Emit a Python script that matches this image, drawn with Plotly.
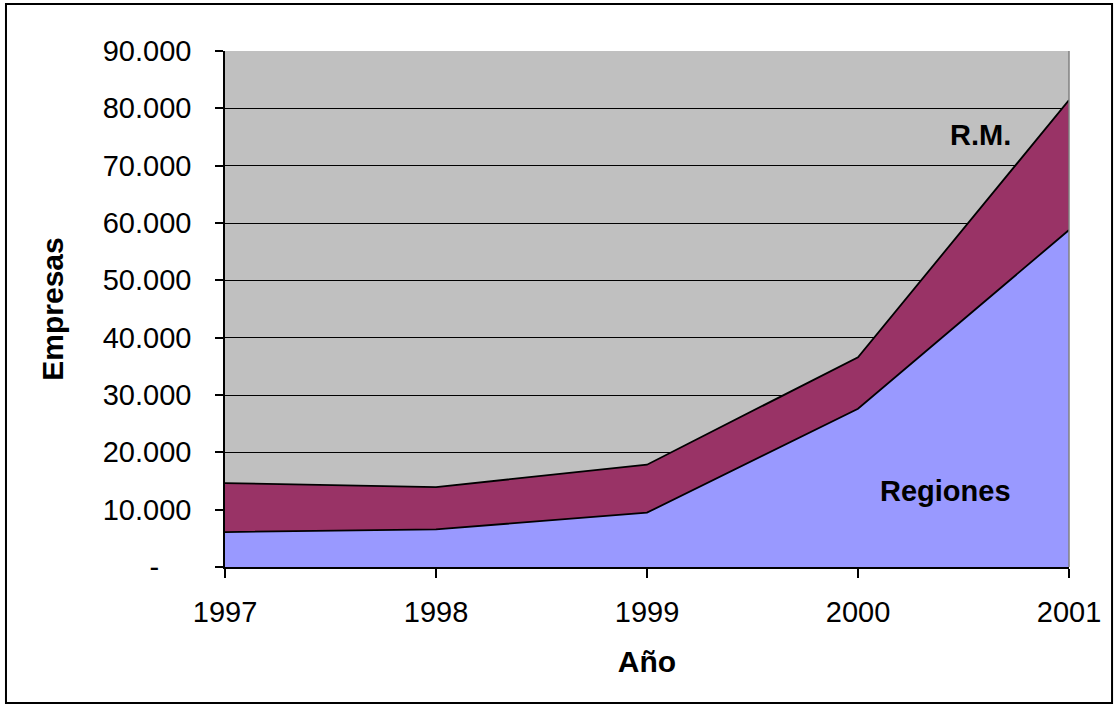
import plotly.graph_objects as go

# Número de empresas por año, separadas en Regiones y Región Metropolitana
years = [1997, 1998, 1999, 2000, 2001]
regiones = [6100, 6570, 9480, 27600, 58780]
rm = [8530, 7370, 8360, 8990, 22650]

y_ticks = [0, 10000, 20000, 30000, 40000, 50000, 60000, 70000, 80000, 90000]
y_ticktext = ["-" + "\u00a0" * 4] + [f"{v:,}".replace(",", ".") for v in y_ticks[1:]]

FONT = "Liberation Sans, Arial, sans-serif"

fig = go.Figure()
fig.add_trace(go.Scatter(
    x=years, y=regiones, name="Regiones", mode="lines",
    stackgroup="empresas", fillcolor="#9999FF",
    line=dict(color="black", width=1.8),
))
fig.add_trace(go.Scatter(
    x=years, y=rm, name="R.M.", mode="lines",
    stackgroup="empresas", fillcolor="#993366",
    line=dict(color="black", width=1.8),
))

fig.update_layout(
    width=1117, height=707,
    margin=dict(l=225, r=48, t=51, b=140),
    paper_bgcolor="white",
    plot_bgcolor="#C0C0C0",
    showlegend=False,
    font=dict(family=FONT, size=29, color="black"),
    xaxis=dict(
        range=[1997, 2001], tickvals=years, ticktext=[str(y) for y in years],
        showgrid=False, zeroline=False,
        showline=True, linecolor="black", linewidth=1.5,
        ticks="outside", ticklen=9, tickcolor="black", tickwidth=1.5,
        ticklabelstandoff=9,
        title=dict(text="<b>Año</b>", font=dict(size=30), standoff=24),
        automargin=False,
    ),
    yaxis=dict(
        range=[0, 90000], tickvals=y_ticks, ticktext=y_ticktext,
        showgrid=True, gridcolor="black", gridwidth=1, zeroline=False,
        showline=True, linecolor="black", linewidth=1.5,
        ticks="outside", ticklen=8, tickcolor="black", tickwidth=1.5,
        ticklabelstandoff=18,
        title=dict(text="<b>Empresas</b>", font=dict(size=30), standoff=30),
        automargin=False,
    ),
    annotations=[
        dict(x=0.895, y=0.838, xref="paper", yref="paper", text="<b>R.M.</b>",
             showarrow=False, font=dict(size=29), xanchor="center", yanchor="middle"),
        dict(x=0.854, y=0.148, xref="paper", yref="paper", text="<b>Regiones</b>",
             showarrow=False, font=dict(size=29), xanchor="center", yanchor="middle"),
    ],
    shapes=[
        # right edge of the plot area
        dict(type="line", xref="paper", yref="paper", x0=1, x1=1, y0=0, y1=1,
             line=dict(color="#808080", width=1.5), layer="above"),
        # frame around the whole chart
        dict(type="rect", xref="paper", yref="paper",
             x0=-0.2595, x1=1.051, y0=-0.2636, y1=1.091,
             line=dict(color="black", width=2), fillcolor="rgba(0,0,0,0)"),
    ],
)

fig.write_html("out.html")
